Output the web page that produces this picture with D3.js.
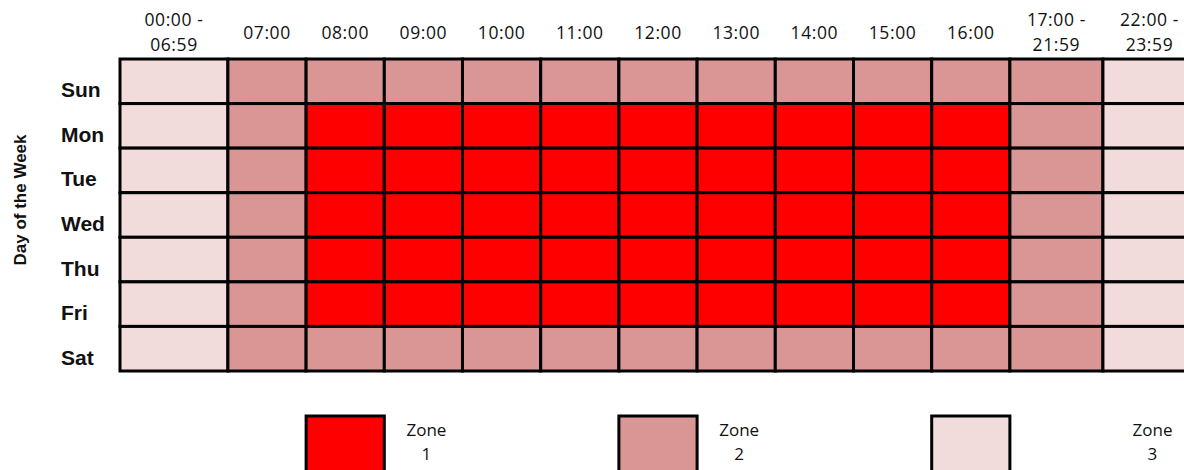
<!DOCTYPE html>
<html>
<head>
<meta charset="utf-8">
<script src="https://cdnjs.cloudflare.com/ajax/libs/d3/7.8.5/d3.min.js"></script>
<style>
  body { margin: 0; background: #fff; }
</style>
</head>
<body>
<script>

// data
var days = ["Sun", "Mon", "Tue", "Wed", "Thu", "Fri", "Sat"];
var slots = [
    ["00:00 -", "06:59"], ["07:00"], ["08:00"], ["09:00"], ["10:00"], ["11:00"],
    ["12:00"], ["13:00"], ["14:00"], ["15:00"], ["16:00"], ["17:00 -", "21:59"], ["22:00 -", "23:59"]
];
var weekendZones = [3, 2, 2, 2, 2, 2, 2, 2, 2, 2, 2, 2, 3];
var weekdayZones = [3, 2, 1, 1, 1, 1, 1, 1, 1, 1, 1, 2, 3];
var zonesByDay = [weekendZones, weekdayZones, weekdayZones, weekdayZones, weekdayZones, weekdayZones, weekendZones];
var zoneNames = ["Zone", "Zone", "Zone"];
var zoneIds = [1, 2, 3];
var zoneColors = ["#FF0000", "#D99694", "#F2DCDB"];

// layout
var colWeights = [1.38, 1, 1, 1, 1, 1, 1, 1, 1, 1, 1, 1.19, 1.19];
var edges = [0];
colWeights.forEach(function (w, i) { edges.push(edges[i] + w); });

var canvas = d3.select("body")
    .append("svg")
    .attr("width", 1184).attr("height", 470);

var x = d3.scaleLinear()
    .domain([0, edges[edges.length - 1]])
    .range([120, 1196]);

var y = d3.scaleBand()
    .domain(days)
    .range([59, 371]);

var color = d3.scaleOrdinal()
    .domain(zoneIds)
    .range(zoneColors);

var cells = [];
days.forEach(function (d, r) {
    zonesByDay[r].forEach(function (z, c) {
        cells.push({ day: d, col: c, zone: z });
    });
});

canvas.selectAll("rect.cell")
    .data(cells)
    .enter()
    .append("rect")
    .attr("class", "cell")
    .attr("x", function (d) { return x(edges[d.col]); })
    .attr("y", function (d) { return y(d.day); })
    .attr("width", function (d) { return x(edges[d.col + 1]) - x(edges[d.col]); })
    .attr("height", y.bandwidth())
    .attr("fill", function (d) { return color(d.zone); })
    .attr("stroke", "#000")
    .attr("stroke-width", 3);

// column headers
var headers = canvas.selectAll("text.slot")
    .data(slots)
    .enter()
    .append("text")
    .attr("class", "slot")
    .attr("x", function (d, i) { return (x(edges[i]) + x(edges[i + 1])) / 2; })
    .attr("y", function (d) { return d.length > 1 ? 26 : 39; })
    .attr("text-anchor", "middle")
    .attr("font-family", "'Open Sans', sans-serif")
    .attr("font-size", "17.5px")
    .attr("letter-spacing", "0.6px")
    .attr("fill", "#111");

headers.each(function (d, i) {
    var t = d3.select(this);
    var cx = t.attr("x");
    d.forEach(function (line, k) {
        t.append("tspan")
            .attr("x", cx)
            .attr("dy", k === 0 ? 0 : 25)
            .text(line);
    });
});

// row labels
canvas.selectAll("text.day")
    .data(days)
    .enter()
    .append("text")
    .attr("class", "day")
    .text(function (d) { return d; })
    .attr("x", 61)
    .attr("y", function (d) { return y(d) + y.bandwidth() / 2 + 16; })
    .attr("font-family", "'Liberation Sans', Arial, sans-serif")
    .attr("font-weight", "bold")
    .attr("font-size", "21px")
    .attr("fill", "#111");

canvas.append("text")
    .text("Day of the Week")
    .attr("transform", "translate(26,200) rotate(-90)")
    .attr("text-anchor", "middle")
    .attr("font-family", "'Liberation Sans', Arial, sans-serif")
    .attr("font-weight", "bold")
    .attr("font-size", "17px")
    .attr("fill", "#111");

// legend
var boxCols = [2, 6, 10];
var labelCols = [3, 7, 12];

canvas.selectAll("rect.key")
    .data(zoneIds)
    .enter()
    .append("rect")
    .attr("class", "key")
    .attr("x", function (d, i) { return x(edges[boxCols[i]]); })
    .attr("y", 416)
    .attr("width", function (d, i) { return x(edges[boxCols[i] + 1]) - x(edges[boxCols[i]]); })
    .attr("height", 70)
    .attr("fill", function (d) { return color(d); })
    .attr("stroke", "#000")
    .attr("stroke-width", 3);

var keys = canvas.selectAll("text.keylabel")
    .data(zoneIds)
    .enter()
    .append("text")
    .attr("class", "keylabel")
    .attr("text-anchor", "middle")
    .attr("font-family", "'Open Sans', sans-serif")
    .attr("font-size", "17px")
    .attr("fill", "#111")
    .attr("y", 436);

keys.each(function (d, i) {
    var t = d3.select(this);
    var cx = (x(edges[labelCols[i]]) + x(edges[labelCols[i] + 1])) / 2 + 3;
    t.append("tspan").attr("x", cx).text(zoneNames[i]);
    t.append("tspan").attr("x", cx).attr("dy", 24).text(d);
});

</script>
</body>
</html>
